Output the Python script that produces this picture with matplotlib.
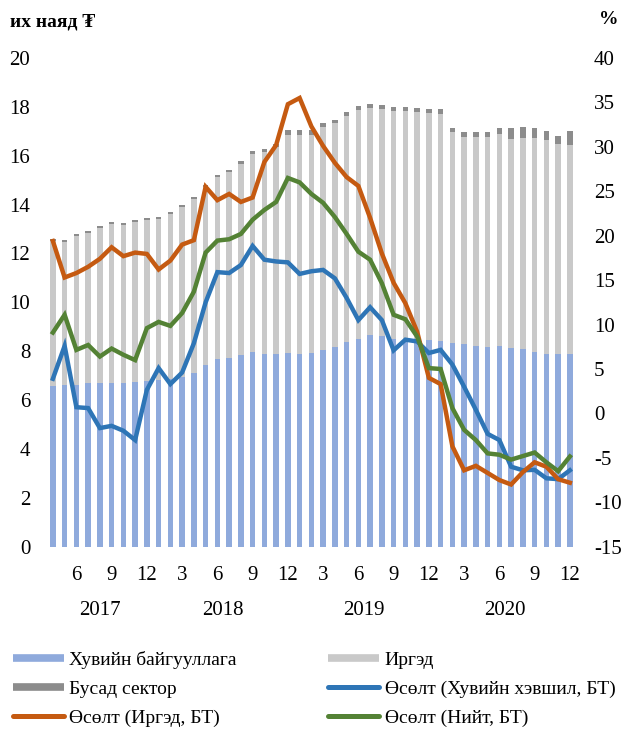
import numpy as np
import matplotlib
matplotlib.use("Agg")
import matplotlib.pyplot as plt
from matplotlib.lines import Line2D
from matplotlib.transforms import blended_transform_factory

plt.rcParams["font.family"] = ["Liberation Serif", "DejaVu Serif"]
plt.rcParams["axes.unicode_minus"] = False

# =========================
# Data (2017-04 .. 2020-12, monthly)
# =========================
months = [4, 5, 6, 7, 8, 9, 10, 11, 12] + list(range(1, 13)) * 3
years = [2017] * 9 + [2018] * 12 + [2019] * 12 + [2020] * 12

# trillion MNT (left axis)
private_corp = [6.57, 6.61, 6.61, 6.68, 6.68, 6.70, 6.71, 6.74, 6.78,
                6.82, 6.87, 6.93, 7.12, 7.43, 7.68, 7.73, 7.84, 7.98, 7.88, 7.90, 7.94,
                7.88, 7.94, 8.05, 8.18, 8.39, 8.50, 8.66, 8.62, 8.52, 8.48, 8.48, 8.45,
                8.41, 8.34, 8.29, 8.21, 8.16, 8.21, 8.14, 8.09, 7.98, 7.90, 7.87, 7.90]
total = [12.58, 12.57, 12.78, 12.90, 13.12, 13.28, 13.25, 13.35, 13.47,
         13.50, 13.68, 14.00, 14.32, 14.82, 15.23, 15.43, 15.77, 16.18, 16.27, 16.50, 17.04,
         17.04, 17.04, 17.32, 17.48, 17.79, 18.02, 18.10, 18.07, 18.00, 18.00, 17.97, 17.91,
         17.90, 17.15, 16.96, 16.96, 16.96, 17.15, 17.12, 17.18, 17.15, 17.01, 16.80, 17.01]
other = [0.08, 0.08, 0.08, 0.08, 0.08, 0.08, 0.08, 0.08, 0.08,
         0.08, 0.08, 0.08, 0.10, 0.10, 0.10, 0.10, 0.12, 0.12, 0.12, 0.15, 0.18,
         0.18, 0.18, 0.15, 0.15, 0.15, 0.15, 0.15, 0.15, 0.18, 0.18, 0.16, 0.16,
         0.19, 0.16, 0.18, 0.19, 0.19, 0.27, 0.45, 0.45, 0.44, 0.37, 0.33, 0.57]
households = [t - p - o for t, p, o in zip(total, private_corp, other)]

# growth, % (right axis)
g_private = [3.9, 7.6, 0.7, 0.6, -1.65, -1.4, -1.95, -3.0, 2.65,
             5.1, 3.3, 4.6, 7.9, 12.5, 15.9, 15.8, 16.7, 18.85, 17.3, 17.1, 17.0,
             15.7, 16.0, 16.15, 15.2, 13.0, 10.5, 11.95, 10.5, 7.1, 8.3, 8.1, 6.8,
             7.15, 5.5, 3.0, 0.4, -2.3, -3.0, -6.0, -6.4, -6.35, -7.3, -7.4, -6.4]
g_households = [19.4, 15.3, 15.8, 16.5, 17.4, 18.7, 17.7, 18.1, 17.95,
                16.2, 17.2, 19.0, 19.5, 25.5, 24.0, 24.7, 23.8, 24.3, 28.3, 30.2, 34.8,
                35.5, 32.3, 30.1, 28.2, 26.6, 25.6, 22.0, 18.0, 14.7, 12.4, 9.2, 4.0,
                3.3, -3.7, -6.4, -5.9, -6.7, -7.5, -8.0, -6.6, -5.5, -6.0, -7.4, -7.8]
g_total = [9.1, 11.1, 7.15, 7.7, 6.4, 7.3, 6.6, 6.0, 9.6,
           10.3, 9.85, 11.3, 13.7, 18.1, 19.45, 19.6, 20.2, 21.8, 22.9, 23.8, 26.5,
           26.0, 24.7, 23.7, 22.1, 20.2, 18.2, 17.3, 14.65, 11.1, 10.6, 8.65, 5.1,
           5.0, 0.6, -1.85, -3.0, -4.5, -4.65, -5.2, -4.8, -4.4, -5.5, -6.5, -4.85]

# colours
C_CORP = "#8FAADC"
C_HH = "#C9C9C9"
C_OTHER = "#8C8C8C"
C_LBLUE = "#2E75B6"
C_LORANGE = "#C55A11"
C_LGREEN = "#548235"

FS = 15

# =========================
# Plot
# =========================
fig = plt.figure(figsize=(6.25, 7.36), dpi=100)
ax = fig.add_axes([47 / 625, 1 - 546.7 / 736, 528.75 / 625, 488.7 / 736])
ax2 = ax.twinx()

x = np.arange(len(months))
w = 0.45
ax.bar(x, private_corp, width=w, color=C_CORP, edgecolor="none")
ax.bar(x, households, width=w, bottom=private_corp, color=C_HH, edgecolor="none")
bot2 = [p + h for p, h in zip(private_corp, households)]
ax.bar(x, other, width=w, bottom=bot2, color=C_OTHER, edgecolor="none")

lw = 3.2
ax2.plot(x, g_private, color=C_LBLUE, lw=lw, solid_joinstyle="miter")
ax2.plot(x, g_households, color=C_LORANGE, lw=lw, solid_joinstyle="miter")
ax2.plot(x, g_total, color=C_LGREEN, lw=lw, solid_joinstyle="miter")

ax.set_xlim(-0.5, len(months) - 0.5)
ax.set_ylim(0, 20)
ax.set_yticks(range(0, 21, 2))
ax2.set_ylim(-15, 40)
ax2.set_yticks(range(-15, 41, 5))

tick_idx = [i for i, m in enumerate(months) if m % 3 == 0]
ax.set_xticks(tick_idx, [str(months[i]) for i in tick_idx])

for a in (ax, ax2):
    for s in a.spines.values():
        s.set_visible(False)
    a.tick_params(length=0, labelsize=FS)
ax.tick_params(axis="y", pad=12)
ax.tick_params(axis="x", pad=14)
ax2.tick_params(axis="y", pad=13)

# year labels
trans = blended_transform_factory(ax.transData, ax.transAxes)
for yr in sorted(set(years)):
    idx = [i for i, y in enumerate(years) if y == yr]
    ax.text((idx[0] + idx[-1]) / 2, -0.13, str(yr), transform=trans,
            ha="center", va="center", fontsize=FS)

fig.text(10 / 625, 1 - 22 / 736, "их наяд ₮", fontsize=14, fontweight="bold",
         ha="left", va="center")
fig.text(609 / 625, 1 - 19 / 736, "%", fontsize=14, fontweight="bold",
         ha="center", va="center")

# legend (column-wise fill)
handles = [
    Line2D([], [], color=C_CORP, lw=5.5, solid_capstyle="butt"),
    Line2D([], [], color=C_OTHER, lw=5.5, solid_capstyle="butt"),
    Line2D([], [], color=C_LORANGE, lw=3.6, solid_capstyle="round"),
    Line2D([], [], color=C_HH, lw=5.5, solid_capstyle="butt"),
    Line2D([], [], color=C_LBLUE, lw=3.6, solid_capstyle="round"),
    Line2D([], [], color=C_LGREEN, lw=3.6, solid_capstyle="round"),
]
labels = ["Хувийн байгууллага", "Бусад сектор", "Өсөлт (Иргэд, БТ)",
          "Иргэд", "Өсөлт (Хувийн хэвшил, БТ)", "Өсөлт (Нийт, БТ)"]
fig.legend(handles, labels, ncol=2, loc="upper left",
           bbox_to_anchor=(13 / 625, 1 - 651 / 736), frameon=False,
           fontsize=14, handlelength=2.6, handletextpad=0.3,
           columnspacing=4.7, labelspacing=0.58, borderpad=0, borderaxespad=0)

fig.savefig("out.png", dpi=100)
